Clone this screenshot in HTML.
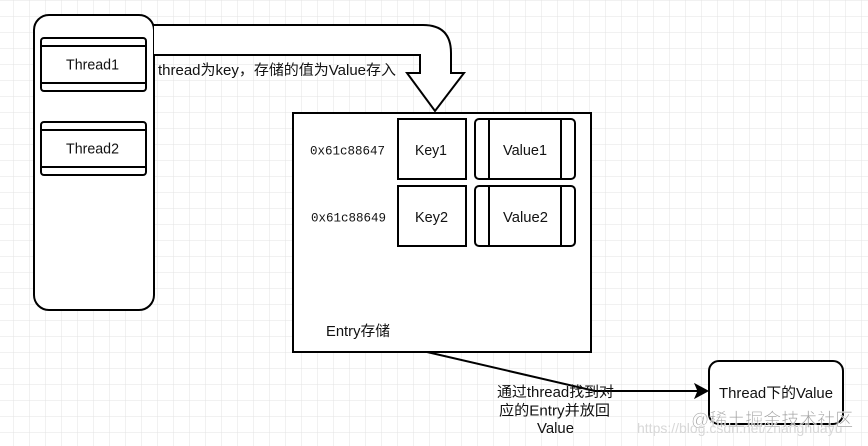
<!DOCTYPE html>
<html><head><meta charset="utf-8"><style>
html,body{margin:0;padding:0;background:#fff;}
svg{display:block;}
text{font-family:"Liberation Sans","Noto Sans CJK SC",sans-serif;font-size:14.5px;fill:#111;}
.m{font-family:"Liberation Mono","DejaVu Sans Mono",monospace;font-size:12.5px;}
</style></head><body>
<svg width="868" height="446" viewBox="0 0 868 446" xmlns="http://www.w3.org/2000/svg">
<defs>
<pattern id="g" x="13.5" y="0.5" width="16" height="16" patternUnits="userSpaceOnUse">
<path d="M0 0V16M0 0H16" stroke="#e3e3e3" stroke-width="1" fill="none"/>
</pattern>
</defs>
<rect width="868" height="446" fill="#fff"/>
<rect width="868" height="446" fill="url(#g)"/>
<g fill="#fff" stroke="#000" stroke-width="2">
<rect x="34" y="15" width="120" height="295" rx="15"/>
<rect x="41" y="38" width="105" height="53" rx="3"/>
<path d="M41 46H146M41 83H146" fill="none"/>
<rect x="41" y="122" width="105" height="53" rx="3"/>
<path d="M41 130H146M41 167H146" fill="none"/>
<path d="M154 25L423 25Q451 25 451 53L451 73L464 73L435 111L407 73L420 73L420 55L154 55"/>
<rect x="293" y="113" width="298" height="239"/>
<rect x="398" y="119" width="68" height="60"/>
<rect x="398" y="186" width="68" height="60"/>
<rect x="475" y="119" width="100" height="60" rx="4"/>
<path d="M489 119V179M561 119V179" fill="none"/>
<rect x="475" y="186" width="100" height="60" rx="4"/>
<path d="M489 186V246M561 186V246" fill="none"/>
<rect x="709" y="361" width="134" height="63" rx="10"/>
<path d="M427 352L595 391L700 391" fill="none"/>
</g>
<polygon points="708,391 695,384 698,391 695,398" fill="#000" stroke="#000" stroke-width="1"/>
<text x="66" y="69.5" textLength="53" lengthAdjust="spacingAndGlyphs">Thread1</text>
<text x="66" y="153.5" textLength="53" lengthAdjust="spacingAndGlyphs">Thread2</text>
<text x="158" y="75" textLength="238" lengthAdjust="spacingAndGlyphs">thread为key，存储的值为Value存入</text>
<text class="m" x="310" y="154.5">0x61c88647</text>
<text class="m" x="311" y="221.5">0x61c88649</text>
<text x="415" y="155" textLength="32" lengthAdjust="spacingAndGlyphs">Key1</text>
<text x="415" y="222" textLength="33" lengthAdjust="spacingAndGlyphs">Key2</text>
<text x="503" y="155" textLength="44" lengthAdjust="spacingAndGlyphs">Value1</text>
<text x="503" y="222" textLength="45" lengthAdjust="spacingAndGlyphs">Value2</text>
<text x="326" y="336" textLength="64" lengthAdjust="spacingAndGlyphs">Entry存储</text>
<text x="719" y="398" textLength="114" lengthAdjust="spacingAndGlyphs">Thread下的Value</text>
<text x="497" y="397" textLength="117" lengthAdjust="spacingAndGlyphs">通过thread找到对</text>
<text x="499" y="415.5" textLength="111" lengthAdjust="spacingAndGlyphs">应的Entry并放回</text>
<text x="537" y="433" textLength="37" lengthAdjust="spacingAndGlyphs">Value</text>
<text x="637" y="433" style="font-size:14px;fill:#d8d8d8;">https://blog.csdn.net/zhanghuayu</text>
<text x="691" y="426" style="font-size:18px;fill:#8f8f8f;stroke:#fff;stroke-width:0.6;opacity:0.85;">@稀土掘金技术社区</text>
</svg>
</body></html>
